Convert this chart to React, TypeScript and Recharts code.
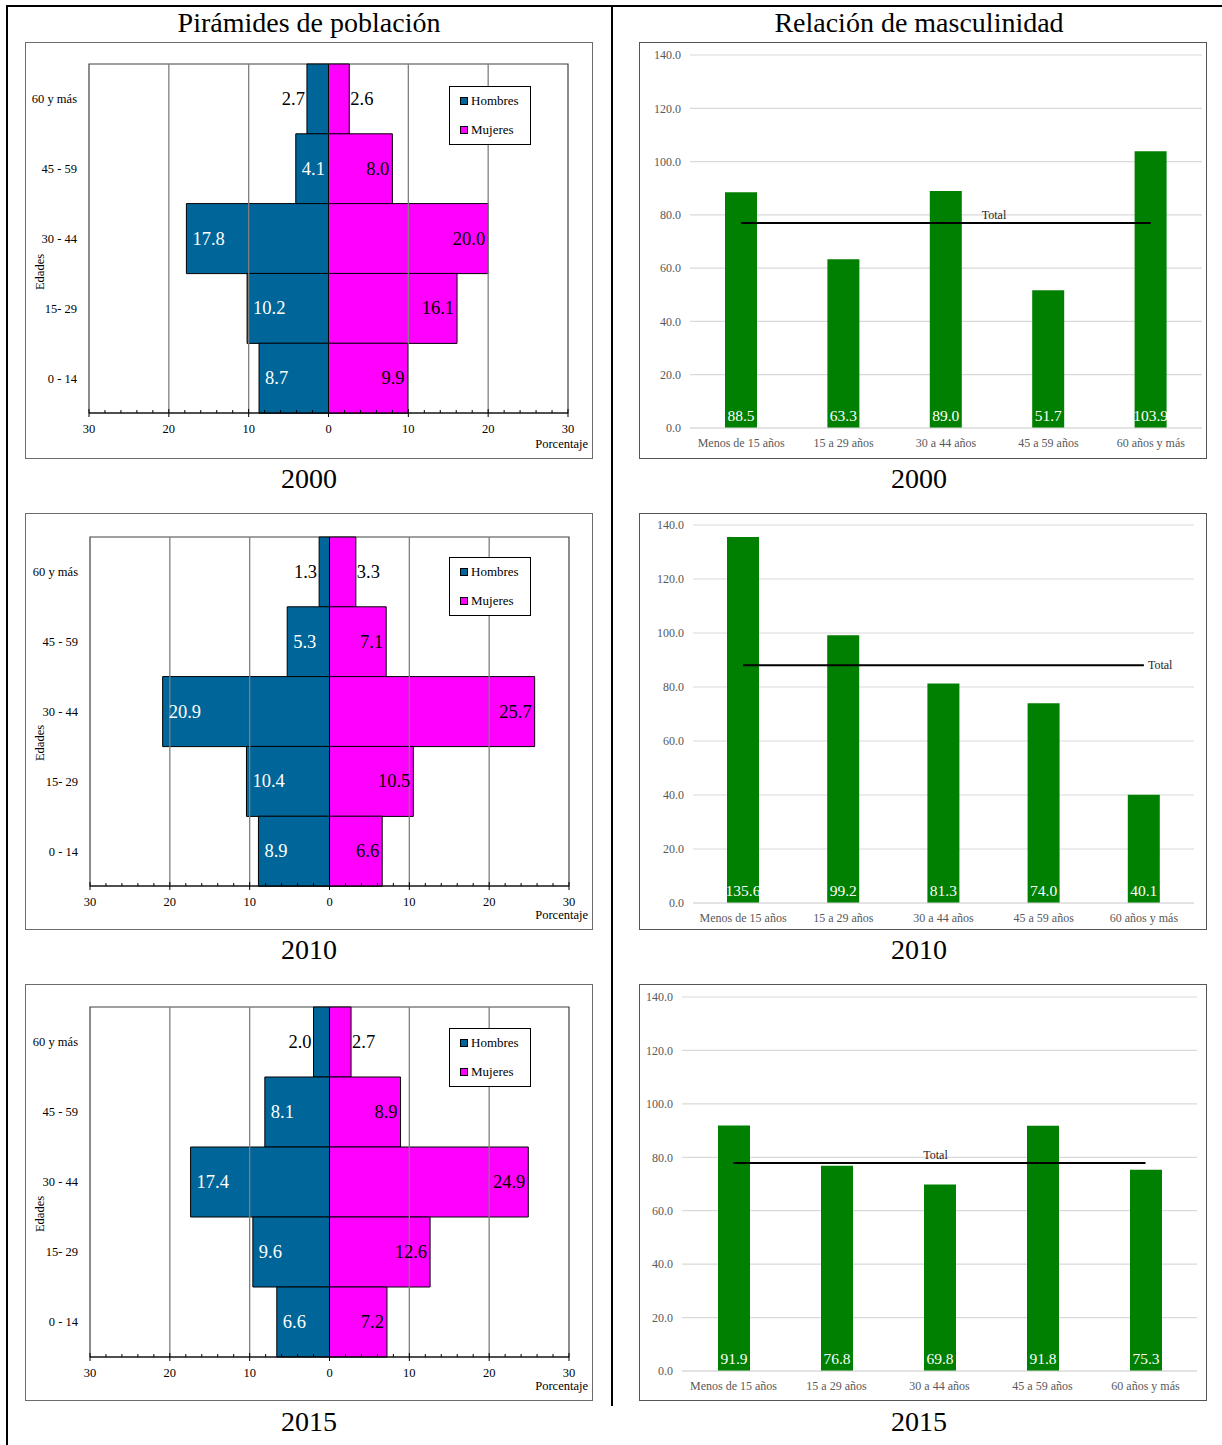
import React from 'react';
import {
  BarChart,
  Bar,
  ComposedChart,
  Line,
  XAxis,
  YAxis,
  CartesianGrid,
  ReferenceLine,
  ReferenceArea,
  LabelList,
  Legend,
} from 'recharts';

const FONT = '"Liberation Serif", "Times New Roman", serif';
const BLUE = '#006699';
const PINK = '#FF00FF';
const GREEN = '#008000';

// ---- data ----
const years = ['2000', '2010', '2015'];

const ageGroups = ['60 y más', '45 - 59', '30 - 44', '15- 29', '0 - 14'];
const hombres2000 = [2.7, 4.1, 17.8, 10.2, 8.7];
const mujeres2000 = [2.6, 8.0, 20.0, 16.1, 9.9];
const hombres2010 = [1.3, 5.3, 20.9, 10.4, 8.9];
const mujeres2010 = [3.3, 7.1, 25.7, 10.5, 6.6];
const hombres2015 = [2.0, 8.1, 17.4, 9.6, 6.6];
const mujeres2015 = [2.7, 8.9, 24.9, 12.6, 7.2];

const pyramidTicks = [-30, -28, -26, -24, -22, -20, -18, -16, -14, -12, -10, -8, -6, -4, -2, 0,
  2, 4, 6, 8, 10, 12, 14, 16, 18, 20, 22, 24, 26, 28, 30];
const pyramidGrid = [-20, -10, 10, 20];

const ratioCategories = ['Menos de 15 años', '15 a 29 años', '30 a 44 años', '45 a 59 años', '60 años y más'];
const ratio2000 = [88.5, 63.3, 89.0, 51.7, 103.9];
const ratio2010 = [135.6, 99.2, 81.3, 74.0, 40.1];
const ratio2015 = [91.9, 76.8, 69.8, 91.8, 75.3];
const totals = [76.9, 88.1, 77.9];
const ratioTicks = [0, 20, 40, 60, 80, 100, 120, 140];

const hombresByYear = [hombres2000, hombres2010, hombres2015];
const mujeresByYear = [mujeres2000, mujeres2010, mujeres2015];
const ratioByYear = [ratio2000, ratio2010, ratio2015];

// ---- layout ----
const BOX_W = 568;
const BOX_H = 417;
const rowTops = [42, 513, 984];
const yearLabelY = [479, 950, 1422];

// plot rectangles inside each box (left, right, top, bottom)
const pyrLayouts = [
  { left: 64, right: 543, top: 22, bottom: 371 },
  { left: 65, right: 544, top: 24, bottom: 373 },
  { left: 65, right: 544, top: 23, bottom: 373 },
];
const ratioLayouts = [
  { left: 51, right: 563, top: 13, bottom: 386 },
  { left: 54, right: 555, top: 12, bottom: 390 },
  { left: 43, right: 558, top: 13, bottom: 387 },
];
const totalLabelCfg = [
  { index: 2, dx: 48, dy: -8, anchor: 'middle' },
  { index: 4, dx: 4, dy: 0, anchor: 'start' },
  { index: 2, dx: -4, dy: -8, anchor: 'middle' },
];

const PyrTick = (props: any) => {
  const { x, y, payload } = props;
  const v = payload.value;
  const major = v % 10 === 0;
  return (
    <g>
      <line x1={x} x2={x} y1={y - (major ? 4 : 3)} y2={y + (major ? 4 : 0)} stroke="#000" strokeWidth={1} />
      {major && (
        <text x={x} y={y + 16} textAnchor="middle" dominantBaseline="central" fontSize={12.5} fontFamily={FONT} fill="#000">
          {Math.abs(v)}
        </text>
      )}
    </g>
  );
};

const boxOf = (props: any) => {
  const vb = props.viewBox || props;
  const x = Math.min(vb.x, vb.x + vb.width);
  const x2 = Math.max(vb.x, vb.x + vb.width);
  return { x, x2, cy: vb.y + vb.height / 2 };
};

const hombresLabel = (vals: number[]) => (props: any) => {
  const v = vals[props.index];
  if (v === undefined) return null;
  const { x, cy } = boxOf(props);
  const outside = v < 3;
  return (
    <text x={outside ? x - 2 : x + 6} y={cy} textAnchor={outside ? 'end' : 'start'} dominantBaseline="central"
      fill={outside ? '#000' : '#fff'} fontSize={18.5} fontFamily={FONT}>
      {v.toFixed(1)}
    </text>
  );
};

const mujeresLabel = (vals: number[]) => (props: any) => {
  const v = vals[props.index];
  if (v === undefined) return null;
  const { x2, cy } = boxOf(props);
  const outside = v < 4;
  return (
    <text x={outside ? x2 + 1 : x2 - 3} y={cy} textAnchor={outside ? 'start' : 'end'} dominantBaseline="central"
      fill="#000" fontSize={18.5} fontFamily={FONT}>
      {v.toFixed(1)}
    </text>
  );
};

const totalLabel = (cfg: any) => (props: any) => {
  if (props.index !== cfg.index) return null;
  const vb = props.viewBox || {};
  const x = vb.x ?? props.x;
  const y = vb.y ?? props.y;
  return (
    <text x={x + cfg.dx} y={y + cfg.dy} textAnchor={cfg.anchor} dominantBaseline="central" fontSize={12}
      fontFamily={FONT} fill="#262626">
      Total
    </text>
  );
};

const LegendBox = () => (
  <div style={{ width: 82, height: 59, boxSizing: 'border-box', border: '1px solid #000', background: '#fff', fontFamily: FONT, fontSize: 13, color: '#000' }}>
    {[['Hombres', BLUE], ['Mujeres', PINK]].map(([name, c], i) => (
      <div key={name} style={{ position: 'absolute', left: 11, top: i === 0 ? 8 : 37, display: 'flex', alignItems: 'center', height: 14 }}>
        <span style={{ display: 'inline-block', width: 6, height: 6, background: c, border: '1px solid #000', marginRight: 3 }} />
        <span>{name}</span>
      </div>
    ))}
  </div>
);

function Pyramid({ index }: { index: number }) {
  const h = hombresByYear[index];
  const m = mujeresByYear[index];
  const L = pyrLayouts[index];
  const data = ageGroups.map((age, i) => ({ age, hombres: -h[i], mujeres: m[i] }));
  return (
    <div style={{ position: 'absolute', left: 25, top: rowTops[index], width: BOX_W, height: BOX_H }}>
      <BarChart
        width={BOX_W}
        height={BOX_H}
        data={data}
        layout="vertical"
        stackOffset="sign"
        barCategoryGap={0}
        margin={{ top: L.top, right: BOX_W - L.right, left: 0, bottom: BOX_H - L.bottom - 30 }}
      >
        {pyramidGrid.map((v) => (
          <ReferenceLine key={v} x={v} stroke="#7f7f7f" strokeWidth={1.3} />
        ))}
        <XAxis
          type="number"
          domain={[-30, 30]}
          ticks={pyramidTicks}
          interval={0}
          height={30}
          tickLine={false}
          tickSize={0}
          tickMargin={0}
          axisLine={{ stroke: '#000' }}
          tick={<PyrTick />}
        />
        <YAxis
          type="category"
          dataKey="age"
          width={L.left}
          axisLine={false}
          tickLine={false}
          tickSize={0}
          tickMargin={12}
          tick={{ fill: '#000', fontSize: 12.5, fontFamily: FONT }}
        />
        <Bar dataKey="hombres" stackId="p" fill={BLUE} stroke="#000" strokeWidth={1} isAnimationActive={false}>
          <LabelList content={hombresLabel(h)} />
        </Bar>
        <Bar dataKey="mujeres" stackId="p" fill={PINK} stroke="#000" strokeWidth={1} isAnimationActive={false}>
          <LabelList content={mujeresLabel(m)} />
        </Bar>
        <ReferenceArea x1={-30} x2={30} fill="none" fillOpacity={0} stroke="#404040" strokeWidth={1.2} />
        <Legend
          layout="vertical"
          align="center"
          verticalAlign="middle"
          wrapperStyle={{ left: 424, top: 44, width: 82, height: 59 }}
          content={() => <LegendBox />}
        />
      </BarChart>
      <div style={{ position: 'absolute', left: 15, top: 230, transform: 'translate(-50%, -50%) rotate(-90deg)', fontSize: 12.5, fontFamily: FONT, whiteSpace: 'nowrap' }}>
        Edades
      </div>
      <div style={{ position: 'absolute', right: 5, top: 396, fontSize: 12.5, fontFamily: FONT, lineHeight: 1 }}>Porcentaje</div>
      <div style={{ position: 'absolute', inset: 0, border: '1.5px solid #6b6b6b', pointerEvents: 'none' }} />
    </div>
  );
}

function Ratio({ index }: { index: number }) {
  const vals = ratioByYear[index];
  const L = ratioLayouts[index];
  const data = ratioCategories.map((name, i) => ({ name, value: vals[i], total: totals[index] }));
  return (
    <div style={{ position: 'absolute', left: 639, top: rowTops[index], width: BOX_W, height: BOX_H }}>
      <ComposedChart
        width={BOX_W}
        height={BOX_H}
        data={data}
        margin={{ top: L.top, right: BOX_W - L.right, left: 0, bottom: BOX_H - L.bottom - 25 }}
      >
        <CartesianGrid vertical={false} stroke="#d9d9d9" strokeWidth={1.2} />
        <XAxis
          dataKey="name"
          height={25}
          interval={0}
          tickLine={false}
          tickSize={0}
          tickMargin={10}
          axisLine={{ stroke: '#d9d9d9', strokeWidth: 1.2 }}
          tick={{ fill: '#595959', fontSize: 12, fontFamily: FONT }}
        />
        <YAxis
          type="number"
          domain={[0, 140]}
          ticks={ratioTicks}
          interval={0}
          width={L.left}
          axisLine={false}
          tickLine={false}
          tickSize={0}
          tickMargin={9}
          tickFormatter={(v: number) => v.toFixed(1)}
          tick={{ fill: '#595959', fontSize: 12, fontFamily: FONT }}
        />
        <Bar dataKey="value" fill={GREEN} barSize={32} isAnimationActive={false}>
          <LabelList
            dataKey="value"
            position="insideBottom"
            offset={7}
            fill="#fff"
            fontSize={15.5}
            fontFamily={FONT}
            formatter={(v: any) => Number(v).toFixed(1)}
          />
        </Bar>
        <Line dataKey="total" stroke="#000" strokeWidth={2} dot={false} isAnimationActive={false}>
          <LabelList content={totalLabel(totalLabelCfg[index])} />
        </Line>
      </ComposedChart>
      <div style={{ position: 'absolute', inset: 0, border: '1.5px solid #555', pointerEvents: 'none' }} />
    </div>
  );
}

export default function App() {
  const text = (label: string, cx: number, cy: number) => (
    <div key={label + cx + cy} style={{ position: 'absolute', left: cx, top: cy, transform: 'translate(-50%, -50%)', fontSize: 28, fontFamily: FONT, whiteSpace: 'nowrap', lineHeight: 1 }}>
      {label}
    </div>
  );
  return (
    <div style={{ position: 'absolute', left: 0, top: 0, width: 1222, height: 1445, background: '#fff', overflow: 'hidden', fontFamily: FONT }}>
      <div style={{ position: 'absolute', left: 6, top: 5, width: 1216, height: 2, background: '#000' }} />
      <div style={{ position: 'absolute', left: 6, top: 5, width: 2, height: 1440, background: '#000' }} />
      <div style={{ position: 'absolute', left: 611, top: 5, width: 2, height: 1401, background: '#000' }} />
      {text('Pirámides de población', 309, 23)}
      {text('Relación de masculinidad', 919, 23)}
      {years.map((y, i) => (
        <React.Fragment key={y}>
          <Pyramid index={i} />
          <Ratio index={i} />
          {text(y, 309, yearLabelY[i])}
          {text(y, 919, yearLabelY[i])}
        </React.Fragment>
      ))}
    </div>
  );
}
